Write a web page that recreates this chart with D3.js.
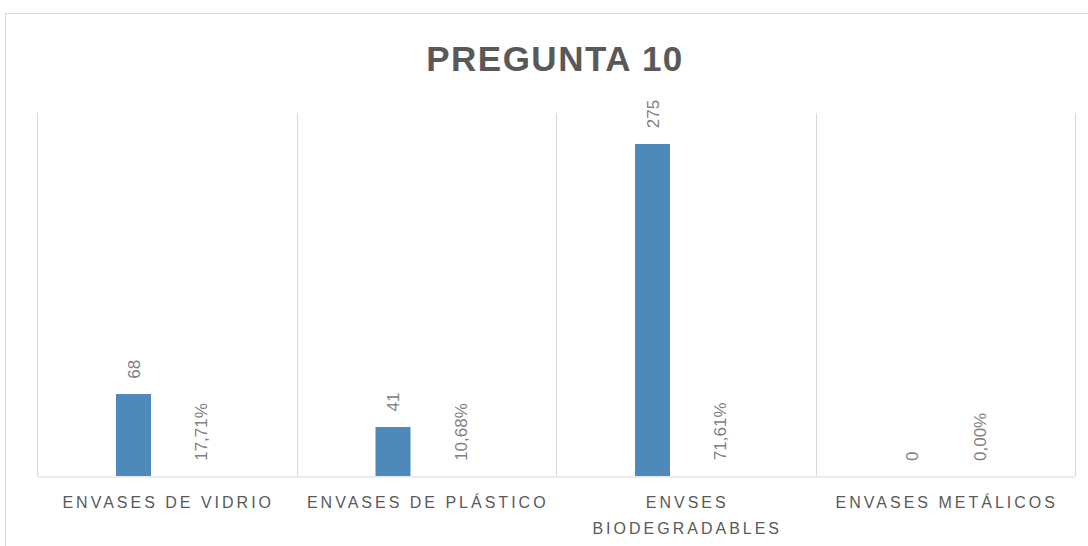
<!DOCTYPE html>
<html>
<head>
<meta charset="utf-8">
<script src="https://cdn.jsdelivr.net/npm/d3@7"></script>
<style>
  html, body { margin: 0; padding: 0; background: #fff; }
  svg { display: block; }
</style>
</head>
<body>
<svg id="chart" width="1088" height="546"></svg>
<script>
// Categories (each entry is one or more label lines)
const categories = ["ENVASES DE VIDRIO", "ENVASES DE PLÁSTICO", "ENVSES BIODEGRADABLES", "ENVASES METÁLICOS"];
const categoryLines = [["ENVASES DE VIDRIO"], ["ENVASES DE PLÁSTICO"], ["ENVSES", "BIODEGRADABLES"], ["ENVASES METÁLICOS"]];
// Series: answer counts and share of answers
const counts = [68, 41, 275, 0];
const shares = [0.1771, 0.1068, 0.7161, 0.0];
const shareLabels = ["17,71%", "10,68%", "71,61%", "0,00%"];
const yDomain = [0, 300];
const titleText = "PREGUNTA 10";

const svg = d3.select("#chart");
const plot = { left: 37, right: 1075, top: 113, bottom: 476 };

// chart frame
svg.append("rect")
  .attr("x", 5.5).attr("y", 13.5)
  .attr("width", 1200).attr("height", 700)
  .attr("fill", "#fff").attr("stroke", "#d9d9d9").attr("stroke-width", 1);

const x = d3.scaleBand().domain(categories).range([plot.left, plot.right]).paddingInner(0).paddingOuter(0);
const y = d3.scaleLinear().domain(yDomain).range([plot.bottom, plot.top]);

// series placement within each category band
const barW = 35;
const offsets = [96.5, 164];

// bar heights snapped to whole device pixels
const barH = d => Math.floor(plot.bottom - y(d));

// vertical category separators
const bounds = categories.map(c => x(c)).concat([plot.right]);
svg.append("g").selectAll("line").data(bounds).join("line")
  .attr("x1", d => Math.round(d) + 0.5).attr("x2", d => Math.round(d) + 0.5)
  .attr("y1", plot.top).attr("y2", plot.bottom)
  .attr("stroke", "#d9d9d9").attr("stroke-width", 1);

// category axis
const xAxis = d3.axisBottom(x).tickSize(0).tickFormat("");
const axisG = svg.append("g").attr("transform", `translate(0,${plot.bottom + 0.5})`).call(xAxis);
axisG.select(".domain").attr("stroke", "#d9d9d9").attr("stroke-width", 1);

const labelG = svg.append("g");
categories.forEach((c, i) => {
  const t = labelG.append("text")
    .attr("x", x(c) + x.bandwidth() / 2)
    .attr("text-anchor", "middle")
    .attr("font-family", "Liberation Sans, Arial, sans-serif")
    .attr("font-size", 16)
    .attr("letter-spacing", 3)
    .attr("fill", "#595959");
  categoryLines[i].forEach((ln, j) => {
    t.append("tspan").attr("x", x(c) + x.bandwidth() / 2 + 1.5).attr("y", 508 + j * 26).text(ln);
  });
});

// count bars
svg.append("g").selectAll("rect").data(counts).join("rect")
  .attr("x", (d, i) => x(categories[i]) + offsets[0] - barW / 2)
  .attr("width", barW)
  .attr("y", d => plot.bottom - barH(d))
  .attr("height", d => barH(d))
  .attr("fill", "#4f89bc");

// share bars (same value axis, so they stay below one pixel tall)
svg.append("g")
  .selectAll("rect").data(shares).join("rect")
  .attr("x", (d, i) => x(categories[i]) + offsets[1] - barW / 2)
  .attr("width", barW)
  .attr("y", d => plot.bottom - barH(d))
  .attr("height", d => barH(d))
  .attr("fill", "#4f89bc");

// rotated data labels
function dataLabels(values, labels, off) {
  svg.append("g").selectAll("text").data(values).join("text")
    .attr("transform", (d, i) => `translate(${x(categories[i]) + off + 6},${y(d) - 15}) rotate(-90)`)
    .attr("text-anchor", "start")
    .attr("font-family", "Liberation Sans, Arial, sans-serif")
    .attr("font-size", 17)
    .attr("fill", "#808080")
    .text((d, i) => labels[i]);
}
dataLabels(counts, counts.map(String), offsets[0]);
dataLabels(shares, shareLabels, offsets[1]);

// title
svg.append("text")
  .attr("x", 555).attr("y", 71)
  .attr("text-anchor", "middle")
  .attr("font-family", "Liberation Sans, Arial, sans-serif")
  .attr("font-weight", "bold")
  .attr("font-size", 35)
  .attr("letter-spacing", 1.5)
  .attr("fill", "#595959")
  .text(titleText);
</script>
</body>
</html>
